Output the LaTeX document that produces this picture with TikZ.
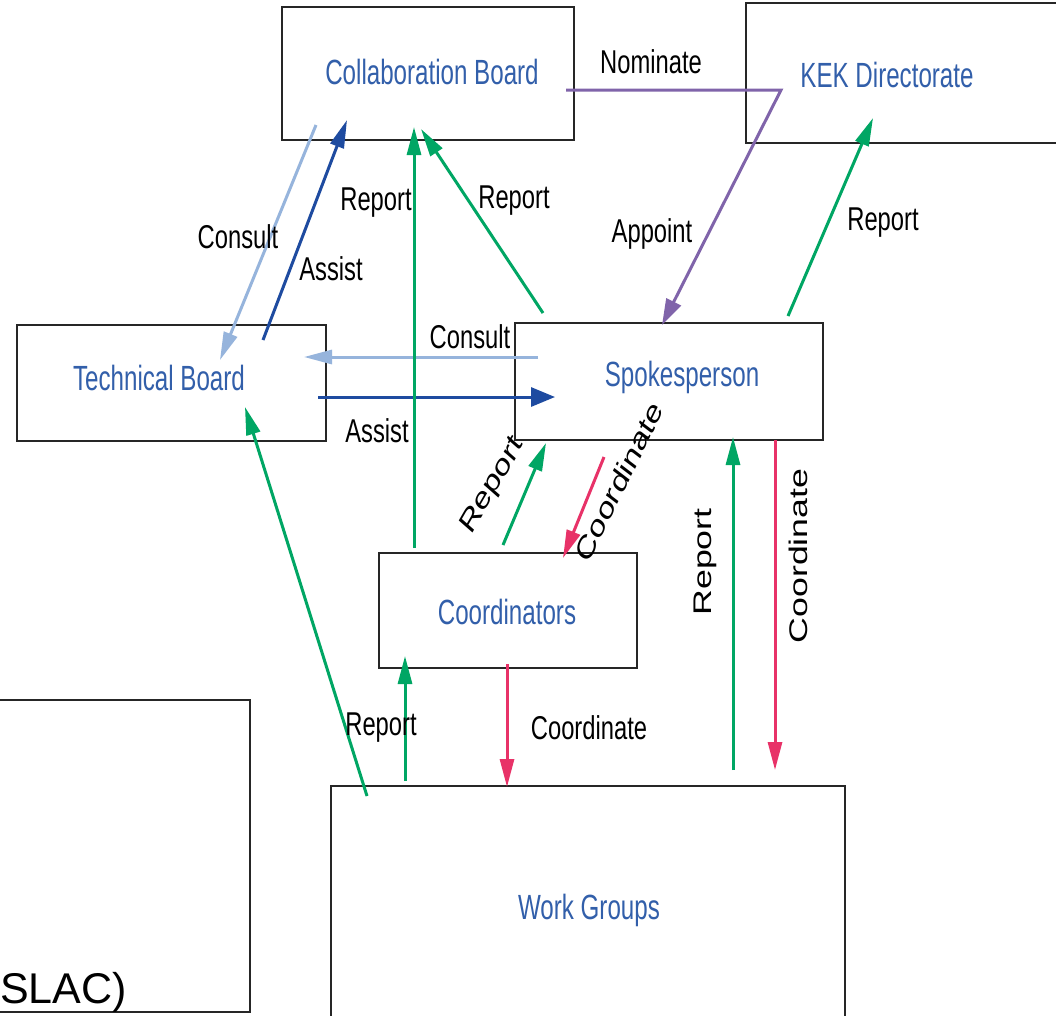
\documentclass[tikz,border=0pt]{standalone}
\usepackage{fontspec}
\setmainfont{Liberation Sans}
\newfontfamily\boxfont[FakeStretch=0.69]{Liberation Sans}
\newfontfamily\lblfont[FakeStretch=0.72]{Liberation Sans}
\newfontfamily\widefont[FakeStretch=1.4]{Liberation Sans}
\newfontfamily\slantfont[FakeStretch=1.35,FakeSlant=0.2]{Liberation Sans}
\usetikzlibrary{arrows.meta,calc}
\definecolor{tgreen}{RGB}{0,166,100}
\definecolor{tpink}{RGB}{232,50,104}
\definecolor{tpurple}{RGB}{128,100,170}
\definecolor{tlight}{RGB}{150,180,220}
\definecolor{tdark}{RGB}{30,75,160}
\definecolor{tblue}{RGB}{50,95,170}
\begin{document}
\begin{tikzpicture}[x=1pt,y=-1pt,
  box/.style={draw=black!85, line width=2pt, inner sep=0pt, outer sep=0pt},
  boxtext/.style={inner sep=0pt, text=tblue, font=\boxfont\fontsize{35}{40}\selectfont},
  lbl/.style={inner sep=0pt, font=\lblfont\fontsize{33}{38}\selectfont},
  rlbl/.style={inner sep=0pt, font=\widefont\fontsize{25.5}{30}\selectfont},
  slbl/.style={inner sep=0pt, font=\slantfont\fontsize{26}{30}\selectfont},
  conn/.style={line width=3pt, -{Triangle[length=28pt,width=14pt]}},
  rep/.style={conn, draw=tgreen},
  coo/.style={conn, draw=tpink},
  cons/.style={conn, draw=tlight},
  asst/.style={conn, draw=tdark},
  nom/.style={line width=3pt, draw=tpurple, -{Triangle[length=26pt,width=16pt]}}]
\useasboundingbox (0,0) rectangle (1056,1015);
\fill[white] (0,0) rectangle (1056,1015);
\clip (0,0) rectangle (1056,1015);

% boxes
\node[box, minimum width=292pt, minimum height=133pt] (collab) at (428,73.5) {};
\node[box, minimum width=334pt, minimum height=140pt] (kek) at (913,73) {};
\node[box, minimum width=309pt, minimum height=116pt] (tech) at (171.5,383) {};
\node[box, minimum width=308pt, minimum height=117pt] (spokes) at (669,381.5) {};
\node[box, minimum width=258pt, minimum height=115pt] (coord) at (508,610.5) {};
\node[box, minimum width=514pt, minimum height=254pt] (work) at (588,913) {};
\node[box, minimum width=350pt, minimum height=312pt] (slac) at (75,856) {};

% box titles
\node[boxtext] (collabtxt) at (432,72) {Collaboration Board};
\node[boxtext] (kektxt) at (887,75) {KEK Directorate};
\node[boxtext] (techtxt) at (159,378) {Technical Board};
\node[boxtext] (spokestxt) at (682,377) {Spokesperson};
\node[boxtext] (coordtxt) at (507,612) {Coordinators};
\node[boxtext] (worktxt) at (589,910) {Work Groups};
\node[inner sep=0pt, anchor=base east, font=\fontsize{43}{48}\selectfont] (slactxt) at (127,1003) {SLAC)};

% nominate / appoint
\coordinate (nomcorner) at (781,90);
\draw[nom] ($(collab.north west)+(284,83)$) -- (nomcorner) -- ($(spokes.north west)+(147,2)$);

% consult / assist between the boards
\draw[cons] ($(collab.north west)+(34,118)$) -- ($(tech.north west)+(203,35)$);
\draw[asst] ($(tech.north west)+(246,15)$) -- ($(collab.north west)+(65,113)$);
\draw[cons] ($(spokes.north west)+(23,34)$) -- ($(tech.north west)+(287,32)$);
\draw[asst, -{Triangle[length=24pt,width=19pt]}] ($(tech.north west)+(301,72)$) -- ($(spokes.north west)+(40,74)$);

% reporting lines
\draw[rep] ($(coord.north west)+(35,-5)$) -- ($(collab.north west)+(132,120)$);
\draw[rep] ($(spokes.north west)+(28,-10)$) -- ($(collab.north west)+(139,122)$);
\draw[rep] ($(spokes.north west)+(273,-7)$) -- ($(kek.north west)+(127,115)$);
\draw[rep] ($(coord.north west)+(124,-8)$) -- ($(spokes.north west)+(31,120)$);
\draw[rep] ($(work.north west)+(402,-16)$) -- ($(spokes.north west)+(218,114)$);
\draw[rep] ($(work.north west)+(74,-5)$) -- ($(coord.north west)+(26,103)$);
\draw[rep] ($(work.north west)+(36,10)$) -- ($(tech.north west)+(228,82)$);

% coordination lines
\draw[coo] ($(spokes.north west)+(89,134)$) -- ($(coord.north west)+(184,5)$);
\draw[coo] ($(spokes.north west)+(260,117)$) -- ($(work.north west)+(444,-16)$);
\draw[coo] ($(coord.north west)+(128,111)$) -- ($(work.north west)+(176,1)$);

% labels
\node[lbl] (lnom) at (651,62) {Nominate};
\node[lbl] (lapp) at (652,234) {Appoint};
\node[lbl] (lcons1) at (238,237) {Consult};
\node[lbl] (lasst1) at (331,269) {Assist};
\node[lbl] (lrep1) at (376,203) {Report};
\node[lbl] (lrep2) at (514,201) {Report};
\node[lbl] (lrep3) at (883,223) {Report};
\node[lbl] (lcons2) at (470,337) {Consult};
\node[lbl] (lasst2) at (377,431) {Assist};
\node[slbl, rotate=60] (lrep4) at (492,487) {Report};
\node[slbl, rotate=64] (lcoo1) at (618,483) {Coordinate};
\node[rlbl, rotate=90] (lrep5) at (705,562) {Report};
\node[rlbl, rotate=90] (lcoo2) at (798,556) {Coordinate};
\node[lbl] (lrep6) at (381,728) {Report};
\node[lbl] (lcoo3) at (589,728) {Coordinate};
\end{tikzpicture}
\end{document}
